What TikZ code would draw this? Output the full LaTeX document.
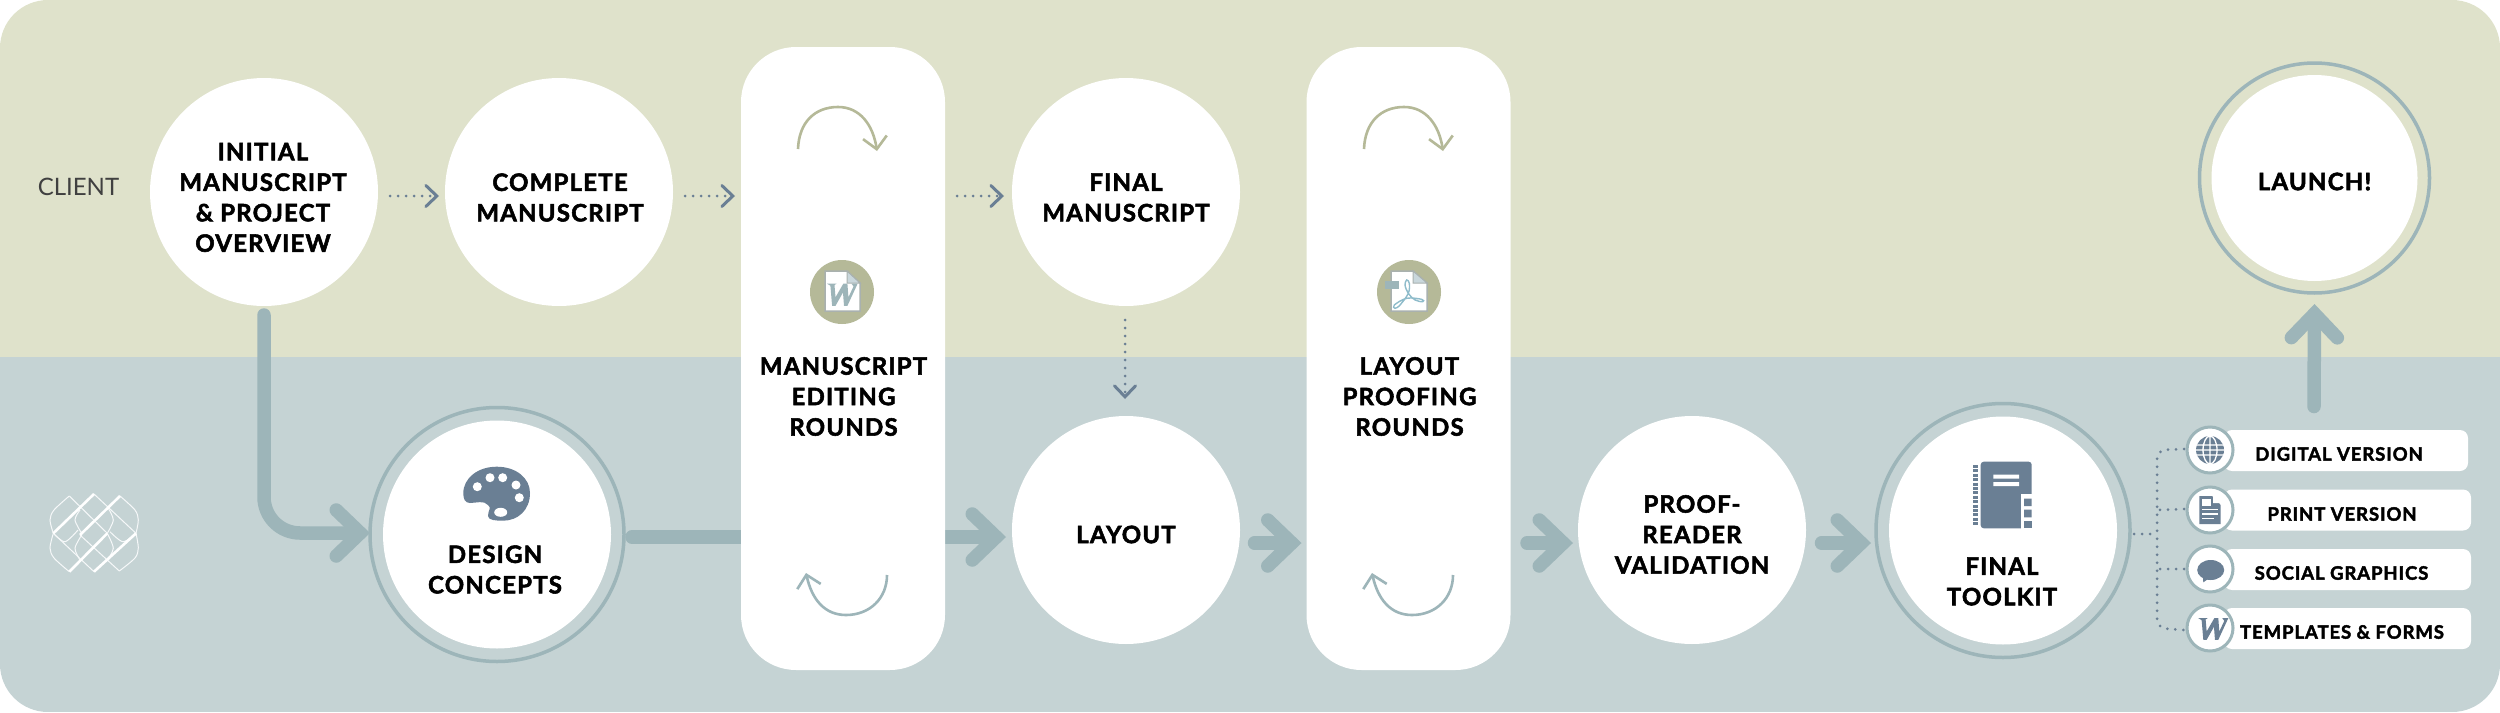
\documentclass[tikz,border=0pt]{standalone}
\usepackage{fontspec}
\usetikzlibrary{arrows.meta}
\newfontfamily\lab[LetterSpace=5,BoldFeatures={FakeBold=2.2}]{Lato}
\newfontfamily\plain{Lato}
\definecolor{bandtop}{HTML}{DFE2CB}
\definecolor{bandlow}{HTML}{C5D3D4}
\definecolor{arr}{HTML}{9DB5B9}
\definecolor{slate}{HTML}{6A7F94}
\definecolor{olive}{HTML}{B5B998}
\definecolor{paleblue}{HTML}{C9D7DC}
\definecolor{docline}{HTML}{A9B1AF}
\definecolor{acro}{HTML}{8FBCCB}
\pgfdeclarelayer{bands}
\pgfdeclarelayer{conn}
\pgfsetlayers{bands,conn,main}
\tikzset{
  disc/.style={circle,fill=white,minimum size=228pt,inner sep=0pt,outer sep=0pt},
  ringed/.style={circle,draw=arr,line width=3.5pt,minimum size=#1,inner sep=0pt,outer sep=0pt},
  minidisc/.style={circle,fill=white,draw=arr,line width=3pt,minimum size=46pt,inner sep=0pt,outer sep=0pt},
  roundsbox/.style={rectangle,fill=white,rounded corners=55pt,minimum width=204pt,minimum height=623pt,inner sep=0pt,outer sep=0pt},
  pill/.style={rectangle,fill=white,rounded corners=8pt,minimum height=41pt,inner sep=0pt,outer sep=0pt},
  lbl/.style={align=center,inner sep=0pt,text=black,font=\lab\bfseries\fontsize{24}{30.5}\selectfont},
  smalllbl/.style={inner sep=0pt,text=black,font=\lab\bfseries\fontsize{18.5}{22}\selectfont},
  fat/.style={draw=arr,line width=13.5pt,line cap=round,-{Straight Barb[length=24pt,width=46pt,line width=13.5pt,line cap=round,line join=miter]}},
  dotty/.style={draw=slate,line width=3pt,line cap=round,dash pattern=on 0pt off 8pt},
  dottyarrow/.style={dotty,-{Straight Barb[length=11pt,width=21pt,line width=3pt,line cap=round,line join=miter]}},
}
\newcommand{\wglyph}[3]{%
  \begin{scope}[shift={(#1)},scale=#2]
    \fill[#3] (0,2)--(28,2)--(22,6)--(25,42)--(48,2)--(60,2)--(63,42)--(78,10)--(72,2)--(90,2)--(60,67)--(50,67)--(47,28)--(25,67)--(15,67)--(10,8)--cycle;
  \end{scope}}
\newcommand{\roundarrows}[2]{%
  \begin{scope}[shift={(#2,0)}]
    \coordinate (#1ta) at (798,149);
    \coordinate (#1tb) at (877,151);
    \coordinate (#1ba) at (887,575);
    \coordinate (#1bb) at (806,573);
    \draw[olive,line width=2.6pt,-{Straight Barb[length=12pt,width=24pt,line width=2.6pt,line join=miter]}] (#1ta) .. controls (799,122) and (815,107) .. (838,107) .. controls (860,107) and (873,125) .. (#1tb);
    \draw[arr,line width=2.6pt,-{Straight Barb[length=12pt,width=24pt,line width=2.6pt,line join=miter]}] (#1ba) .. controls (887,598) and (870,615) .. (846,615) .. controls (825,615) and (812,600) .. (#1bb);
  \end{scope}}
\begin{document}
\begin{tikzpicture}[x=1pt,y=-1pt]
\useasboundingbox (0,0) rectangle (2500,712);
% bands
\begin{pgfonlayer}{bands}
  \begin{scope}
    \clip[rounded corners=48pt] (0,0) rectangle (2500,712);
    \fill[bandtop] (0,0) rectangle (2500,356.5);
    \fill[bandlow] (0,356.5) rectangle (2500,712);
  \end{scope}
\end{pgfonlayer}
% main nodes
\node[roundsbox] (bx1) at (843,358.5) {};
\node[roundsbox] (bx2) at (1408.5,358.5) {};
\node[disc] (c1) at (264,192) {};
\node[disc] (c2) at (559,192) {};
\node[disc] (c3) at (1126,192) {};
\node[disc] (ly) at (1126,530) {};
\node[disc] (pr) at (1692,530) {};
\node[ringed=254pt] (dcr) at (497,534.5) {};
\node[disc] (dc) at (497,534.5) {};
\node[ringed=254pt] (tkr) at (2003,530.5) {};
\node[disc] (tk) at (2003,530.5) {};
\node[ringed=230pt] (lar) at (2314.5,178) {};
\node[disc,minimum size=206pt] (la) at (2314.5,178) {};
% pills and mini discs
\node[pill,minimum width=244pt] (p1) at (2346,450.5) {};
\node[pill,minimum width=247pt] (p2) at (2347.5,510) {};
\node[pill,minimum width=247pt] (p3) at (2347.5,569.5) {};
\node[pill,minimum width=247pt] (p4) at (2347.5,628.5) {};
\node[minidisc] (s1) at (2210,450) {};
\node[minidisc] (s2) at (2210,510) {};
\node[minidisc] (s3) at (2210,569) {};
\node[minidisc] (s4) at (2210,628) {};
% labels
\node[font=\plain\fontsize{24}{28}\selectfont,text=black!75,inner sep=0pt] (client) at (78.5,186.5) {CLIENT};
\node[lbl] (t1) at (263,197.5) {INITIAL\\MANUSCRIPT\\\& PROJECT\\OVERVIEW};
\node[lbl] (t2) at (560,197.5) {COMPLETE\\MANUSCRIPT};
\node[lbl] (t3) at (1126,197.5) {FINAL\\MANUSCRIPT};
\node[lbl] (t4) at (843.5,396.5) {MANUSCRIPT\\EDITING\\ROUNDS};
\node[lbl] (t5) at (1409.5,396.5) {LAYOUT\\PROOFING\\ROUNDS};
\node[lbl] (t6) at (1126,534.5) {LAYOUT};
\node[lbl] (t7) at (495,569.5) {DESIGN\\CONCEPTS};
\node[lbl] (t8) at (1692,534.5) {PROOF-\\READER\\VALIDATION};
\node[lbl] (t9) at (2002,581.5) {FINAL\\TOOLKIT};
\node[lbl] (t10) at (2314.5,181.5) {LAUNCH!};
\node[smalllbl] (n1) at (2339,454) {DIGITAL VERSION};
\node[smalllbl] (n2) at (2342,514) {PRINT VERSION};
\node[smalllbl] (n3) at (2341.5,573) {SOCIAL GRAPHICS};
\node[smalllbl] (n4) at (2342,632) {TEMPLATES \& FORMS};
% connectors
\coordinate (trunk) at (2157,534);
\coordinate (launchfoot) at (2314,406.5);
\begin{pgfonlayer}{conn}
  \draw[fat,rounded corners=36pt] ([shift={(0,9)}]c1.south) |- ([shift={(0,-1.5)}]dcr.west);
  \draw[fat] ([shift={(8,2.5)}]dcr.east) -- ([shift={(-6,7)}]ly.west);
  \draw[fat] ([shift={(14.5,13)}]ly.east) -- ([shift={(-5,184.5)}]bx2.west);
  \draw[fat] ([shift={(16.5,184.5)}]bx2.east) -- ([shift={(-5,13)}]pr.west);
  \draw[fat] ([shift={(15.5,13)}]pr.east) -- ([shift={(-5,12.5)}]tkr.west);
  \draw[fat] (launchfoot) -- ([shift={(0,11)}]lar.south);
  \draw[dottyarrow] ([shift={(12,4)}]c1.east) -- ([shift={(-6,4)}]c2.west);
  \draw[dottyarrow] ([shift={(12,4)}]c2.east) -- ([shift={(-6,-162.5)}]bx1.west);
  \draw[dottyarrow] ([shift={(12,-162.5)}]bx1.east) -- ([shift={(-8,4)}]c3.west);
  \draw[dottyarrow] ([shift={(-1,14)}]c3.south) -- ([shift={(-1,-17)}]ly.north);
  \draw[dotty] ([shift={(4,3.5)}]tkr.east) -- (trunk);
  \draw[dotty,rounded corners=9pt] ([shift={(-3,-1)}]s1.west) -- (trunk |- s1.west) -- (trunk |- s4.west) -- ([shift={(-3,2)}]s4.west);
  \draw[dotty] ([shift={(-3,-1)}]s2.west) -- (trunk |- s2.west);
  \draw[dotty] ([shift={(-3,0)}]s3.west) -- (trunk |- s3.west);
\end{pgfonlayer}
\roundarrows{ra}{0}
\roundarrows{rb}{566}
% Word icon
\fill[olive] (842,292) circle (32);
\draw[docline,line width=1.5pt,fill=white] (825,271)--(847,271)--(860,283)--(860,311)--(825,311)--cycle;
\fill[paleblue,draw=docline,line width=1pt] (847,271)--(860,283)--(847,283)--cycle;
\wglyph{827,283}{0.34}{arr}
% PDF icon
\fill[olive] (1409,292) circle (32);
\draw[docline,line width=1.5pt,fill=white] (1391,271)--(1413,271)--(1427,283)--(1427,311)--(1391,311)--cycle;
\fill[paleblue,draw=docline,line width=1pt] (1413,271)--(1427,283)--(1413,283)--cycle;
\fill[arr] (1385,281) rectangle (1399,289);
\draw[acro,line width=1.4pt] plot[smooth cycle,tension=0.6] coordinates {(1406.7,280) (1409.3,283.3) (1408.3,293.3) (1400,305) (1395,308.3) (1394.3,305) (1406.7,298.3) (1421.7,299.3) (1422.7,301.7) (1415,300) (1408.3,293.3) (1405,285)};
% palette
\fill[slate] (463.3,493.3) .. controls (463.3,478) and (478,466.7) .. (496.7,466.7) .. controls (516,466.7) and (530,478) .. (530,493) .. controls (530,510) and (518,520.7) .. (503,520.7) .. controls (497,520.7) and (488,520.5) .. (488,516) .. controls (488,510) and (492,508) .. (488,505) .. controls (484,500) and (476,503) .. (470,503) .. controls (465,503) and (463.3,499) .. cycle;
\fill[white] (477.3,486.7) circle (4.5) (490,477.7) circle (4.5) (502.7,477.7) circle (4.5) (516,485) circle (4.5) (519.3,497.7) circle (4.5);
\fill[white] (500.7,512.3) ellipse (6.5 and 4.5);
% notebook
\fill[slate,rounded corners=3pt] (1980.7,461.7) rectangle (2031.7,528.3);
\fill[white] (1993.3,474.7) rectangle (2019,478.7) (1993.3,482) rectangle (2019,486);
\fill[white] (2020.7,494.3) rectangle (2033,529);
\fill[slate] (2024,498.7) rectangle (2031.7,506) (2024,509.7) rectangle (2031.7,517.3);
\fill[slate] (2024,520.7) rectangle (2031.7,528.3);
\draw[slate,line width=5pt,dash pattern=on 3pt off 1.4pt] (1975.8,465) -- (1975.8,526);
% globe
\fill[slate] (2210,450) circle (14);
\draw[white,line width=1.3pt] (2196,445) -- (2224,445) (2196,450) -- (2224,450) (2196,455) -- (2224,455) (2210,436) -- (2210,464) (2210,450) ellipse (7 and 14);
% document
\fill[slate] (2199.3,496)--(2212,496)--(2220.7,505)--(2220.7,524)--(2199.3,524)--cycle;
\fill[white] (2202,498.7) rectangle (2211,506);
\fill[white] (2213,495.5)--(2213,503)--(2221,503)--(2221,502)--(2214,495.5)--cycle;
\draw[white,line width=1.3pt] (2202,509.5) -- (2218,509.5) (2202,514) -- (2218,514) (2202,518.5) -- (2214,518.5);
% speech bubble
\fill[slate] (2210.7,570) ellipse (13.5 and 10);
\fill[slate] (2202.7,575) -- (2203.3,582.3) -- (2211,577) -- cycle;
% W
\wglyph{2198.3,617.5}{0.333}{slate}
% logo
\begin{scope}[draw=white]
  \draw[line width=1pt,white!85!bandlow] (69.3,496) -- (107.3,533.3) (94,494) -- (136,533.3) (53.3,533.3) -- (94,571.7) (80,535) -- (119.3,571);
  \draw[line width=1pt,white!85!bandlow] plot[smooth] coordinates {(69.3,496) (54,510) (50,520) (53.3,533.3)};
  \draw[line width=1pt,white!85!bandlow] plot[smooth] coordinates {(120,496) (135,510) (138.3,520) (136,533.3)};
  \draw[line width=1pt,white!85!bandlow] plot[smooth] coordinates {(53.3,533.3) (50,548) (54,558) (69.3,571.7)};
  \draw[line width=1pt,white!85!bandlow] plot[smooth] coordinates {(136,533.3) (138.3,548) (135,558) (119.3,571)};
  \draw[line width=1pt,white!85!bandlow] plot[smooth] coordinates {(53.3,533.3) (65,541.7) (78,530)};
  \draw[line width=1pt,white!85!bandlow] plot[smooth] coordinates {(136,533.3) (123,541.7) (110,531.7)};
  \draw[line width=1pt,white!85!bandlow] plot[smooth] coordinates {(80,510) (75,520) (81.7,533.3)};
  \draw[line width=1pt,white!85!bandlow] plot[smooth] coordinates {(108.3,508.3) (113.3,520) (107.3,533.3)};
  \draw[line width=1pt,white!85!bandlow] plot[smooth] coordinates {(80,560) (75,548.3) (81.7,535)};
  \draw[line width=1pt,white!85!bandlow] plot[smooth] coordinates {(107.3,560) (113.3,548.3) (107.3,533.3)};
  \draw[line width=2.6pt] (53.3,533.3) -- (94,494) (80,535) -- (120,496) (69.3,571.7) -- (107.3,533.3) (94,571.7) -- (136,533.3);
\end{scope}
\end{tikzpicture}
\end{document}
